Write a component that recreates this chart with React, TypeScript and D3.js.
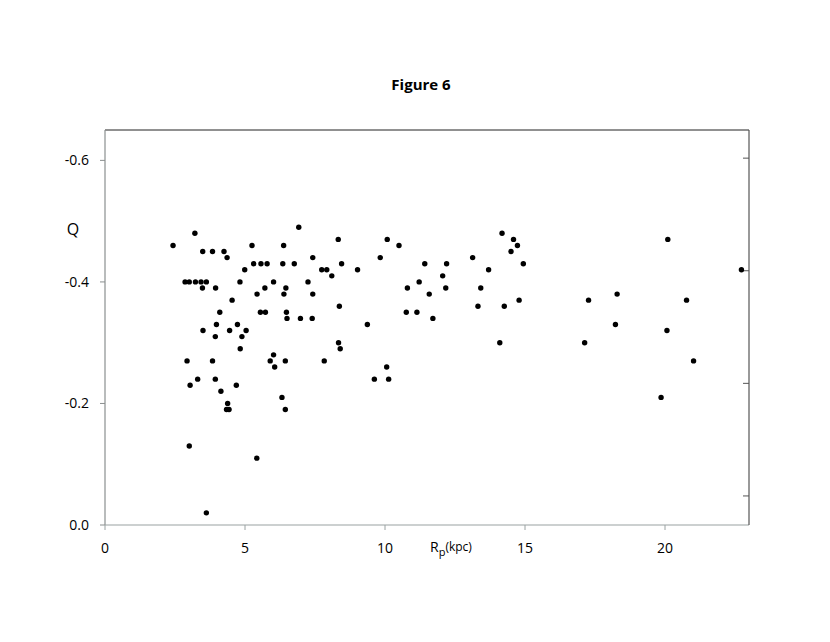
import React from 'react';
import * as d3 from 'd3';

// Rp (kpc) and Q
const rp = [
  3.21, 2.43, 3.49, 3.84, 4.25, 4.36, 5.25, 6.38, 4.99, 5.31, 5.57, 5.79, 6.35,
  2.86, 3.01, 3.23, 3.43, 3.62, 3.48, 3.95, 4.82, 6.02, 6.46, 5.71, 5.43, 6.39,
  4.54, 4.10, 5.55, 5.73, 6.48, 6.50, 3.98, 4.73, 3.50, 4.45, 5.04, 3.94, 4.89,
  4.83, 6.02, 5.90, 6.44, 6.06, 2.93, 3.84, 3.04, 3.31, 3.94, 4.69, 4.14, 6.32,
  4.38, 4.34, 4.43, 6.44, 3.01, 5.42, 3.62,
  6.92, 8.33, 10.08, 10.50, 6.76, 7.42, 8.45, 9.83, 11.42, 7.74, 7.92, 8.10, 9.02,
  7.25, 7.42, 10.80, 11.22, 11.58, 8.37, 6.98, 7.40, 10.76, 11.14, 11.71, 9.37,
  8.34, 8.40, 7.83, 10.06, 9.62, 10.13,
  14.18, 14.59, 14.73, 14.50, 12.20, 13.13, 13.70, 14.94, 12.06, 12.17, 13.42,
  13.32, 14.26, 14.79, 14.10,
  17.27, 17.13, 20.10, 22.73, 18.29, 20.77, 18.23, 20.07, 21.02, 19.86,
];

const q = [
  -0.48, -0.46, -0.45, -0.45, -0.45, -0.44, -0.46, -0.46, -0.42, -0.43, -0.43, -0.43, -0.43,
  -0.40, -0.40, -0.40, -0.40, -0.40, -0.39, -0.39, -0.40, -0.40, -0.39, -0.39, -0.38, -0.38,
  -0.37, -0.35, -0.35, -0.35, -0.35, -0.34, -0.33, -0.33, -0.32, -0.32, -0.32, -0.31, -0.31,
  -0.29, -0.28, -0.27, -0.27, -0.26, -0.27, -0.27, -0.23, -0.24, -0.24, -0.23, -0.22, -0.21,
  -0.20, -0.19, -0.19, -0.19, -0.13, -0.11, -0.02,
  -0.49, -0.47, -0.47, -0.46, -0.43, -0.44, -0.43, -0.44, -0.43, -0.42, -0.42, -0.41, -0.42,
  -0.40, -0.38, -0.39, -0.40, -0.38, -0.36, -0.34, -0.34, -0.35, -0.35, -0.34, -0.33,
  -0.30, -0.29, -0.27, -0.26, -0.24, -0.24,
  -0.48, -0.47, -0.46, -0.45, -0.43, -0.44, -0.42, -0.43, -0.41, -0.39, -0.39,
  -0.36, -0.36, -0.37, -0.30,
  -0.37, -0.30, -0.47, -0.42, -0.38, -0.37, -0.33, -0.32, -0.27, -0.21,
];

const xTicks = [0, 5, 10, 15, 20];
const yTicks = [0, -0.2, -0.4, -0.6];
const y2Ticks = [1, 2, 3, 4];

const W = 830;
const H = 642;
const left = 105, right = 749, top = 130, bottom = 525;
const font = "'Open Sans', 'Noto Sans', sans-serif";

export default function App() {
  const x = d3.scaleLinear().domain([0, 23]).range([left, right]);
  const y = d3.scaleLinear().domain([0, -0.65]).range([bottom, top]);
  const y2 = d3.scaleLinear().domain([0.742, 4.25]).range([bottom, top]);
  // Excel-style labels use a plain hyphen, not the unicode minus
  const fmt = (v: number) => d3.format('.1f')(v).replace('\u2212', '-');

  return (
    <svg width={W} height={H} style={{ position: 'absolute', left: 0, top: 0, background: '#fff' }}>
      <text x={421} y={90} textAnchor="middle" fontFamily={font} fontWeight="bold" fontSize={15} fill="#000">
        Figure 6
      </text>

      {/* frame */}
      <line x1={left} x2={right} y1={top} y2={top} stroke="#222" strokeWidth={1} />
      <line x1={left} x2={left} y1={top} y2={bottom} stroke="#8a8f8f" strokeWidth={1.2} />
      <line x1={left} x2={right} y1={bottom} y2={bottom} stroke="#9aa2a2" strokeWidth={1.2} />
      <line x1={right} x2={right} y1={top} y2={bottom} stroke="#555" strokeWidth={1.2} />

      {/* left axis */}
      {yTicks.map(t => (
        <g key={'y' + t}>
          <line x1={left - 5} x2={left} y1={y(t)} y2={y(t)} stroke="#8a8f8f" />
          <text x={89} y={y(t)} dy="0.35em" textAnchor="end" fontFamily={font} fontSize={14} fill="#000">
            {fmt(t)}
          </text>
        </g>
      ))}

      {/* right axis, unlabeled */}
      {y2Ticks.map(t => (
        <line key={'r' + t} x1={right - 6} x2={right} y1={y2(t)} y2={y2(t)} stroke="#555" />
      ))}

      {/* bottom axis */}
      {xTicks.map(t => (
        <g key={'x' + t}>
          <line x1={x(t)} x2={x(t)} y1={bottom} y2={bottom + 5} stroke="#9aa2a2" />
          <text x={x(t)} y={553} textAnchor="middle" fontFamily={font} fontSize={14} fill="#000">
            {t}
          </text>
        </g>
      ))}

      <text x={430} y={552} fontFamily={font} fontSize={14} fill="#000">
        R<tspan dy={4} fontSize={11}>p</tspan><tspan dy={-5} fontSize={12}>(kpc)</tspan>
      </text>

      <text x={73} y={229} dy="0.35em" textAnchor="middle" fontFamily={font} fontSize={16} fill="#000">
        Q
      </text>

      {rp.map((r, i) => (
        <circle key={i} cx={x(r)} cy={y(q[i])} r={2.7} fill="#000" />
      ))}
    </svg>
  );
}
